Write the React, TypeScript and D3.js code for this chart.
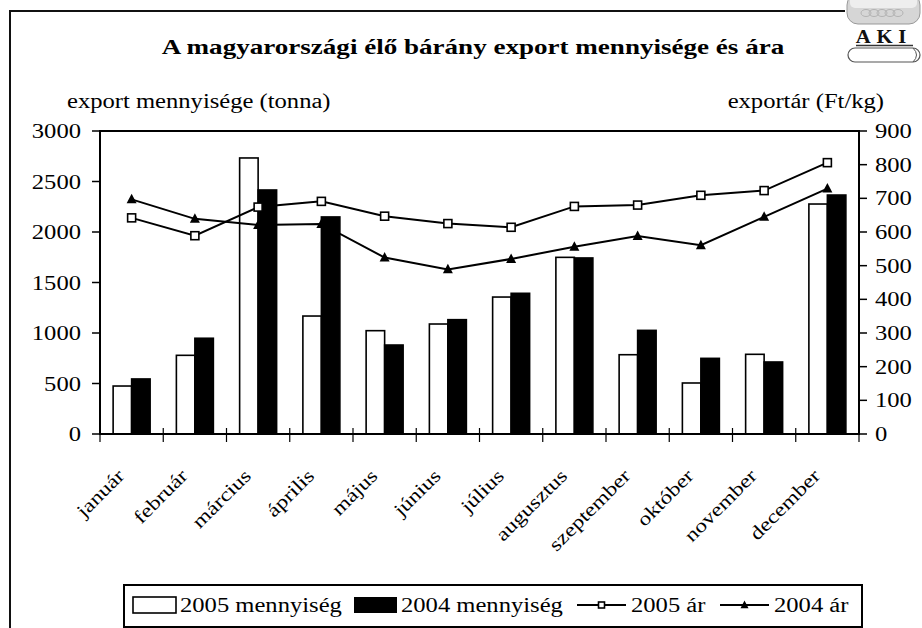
import React from 'react';
import * as d3 from 'd3';

const months = ['január', 'február', 'március', 'április', 'május', 'június', 'július', 'augusztus', 'szeptember', 'október', 'november', 'december'];
const qty2005 = [475, 779, 2733, 1168, 1023, 1089, 1356, 1749, 785, 505, 789, 2277];
const qty2004 = [545, 948, 2416, 2149, 881, 1132, 1393, 1743, 1026, 749, 713, 2366];
const price2005 = [642, 589, 674, 691, 647, 625, 614, 676, 680, 709, 723, 806];
const price2004 = [697, 639, 621, 624, 524, 489, 520, 556, 588, 561, 645, 729];
const qtyTicks = [0, 500, 1000, 1500, 2000, 2500, 3000];
const priceTicks = [0, 100, 200, 300, 400, 500, 600, 700, 800, 900];

const W = 922;
const H = 628;
const FONT = '"Liberation Serif", "Times New Roman", serif';
const SX = 1.23; // text in the original is stretched horizontally

const plot = { left: 100, right: 859, top: 131, bottom: 434 };

// stretched text helper
const T = ({ x, y, size = 20, anchor = 'start', weight = 'normal', rotate = 0, children }: any) => (
  <text
    transform={`translate(${x},${y}) rotate(${rotate}) scale(${SX},1)`}
    fontFamily={FONT}
    fontSize={size}
    fontWeight={weight}
    textAnchor={anchor}
    fill="#000"
  >
    {children}
  </text>
);

const Square = ({ x, y, s = 8 }: any) => (
  <rect x={x - s / 2} y={y - s / 2} width={s} height={s} fill="#fff" stroke="#000" strokeWidth={1.6} />
);

const Tri = ({ x, y, s = 10 }: any) => (
  <path d={`M${x},${y - s * 0.55}L${x + s / 2},${y + s * 0.4}L${x - s / 2},${y + s * 0.4}Z`} fill="#000" />
);

export default function App() {
  const x = d3.scaleBand().domain(months).range([plot.left, plot.right]);
  const xs = d3.scaleBand().domain(['2005', '2004']).range([0, x.bandwidth()]).paddingOuter(0.71);
  const yL = d3.scaleLinear().domain([0, 3000]).range([plot.bottom, plot.top]);
  const yR = d3.scaleLinear().domain([0, 900]).range([plot.bottom, plot.top]);
  const cx = (m: string) => (x(m) as number) + x.bandwidth() / 2;

  const line = d3.line<number>()
    .x((_, i) => cx(months[i]))
    .y(d => yR(d));

  const bounds = months.map(m => x(m) as number).concat([plot.right]);

  // legend layout
  const ly = 605;

  return (
    <svg width={W} height={H} style={{ position: 'absolute', left: 0, top: 0, background: '#fff' }}>
      <rect x={0} y={0} width={W} height={H} fill="#fff" />

      {/* outer chart border */}
      <path d={`M10,${H}V11H845`} fill="none" stroke="#111" strokeWidth={2} />

      {/* logo */}
      <g>
        <rect x={847} y={-6} width={73} height={30} rx={11} fill="#d6d6d6" stroke="#999" strokeWidth={1} />
        <rect x={850} y={-4} width={67} height={12} rx={5} fill="#eee" />
        <g fill="none" stroke="#aaa" strokeWidth={0.8}>
          {[0, 1, 2, 3, 4].map(i => (
            <ellipse key={i} cx={866 + i * 8} cy={13} rx={5} ry={3.5} />
          ))}
        </g>
        <text transform="translate(884,43) scale(1.15,1)" fontFamily={FONT} fontSize={18} fontWeight="bold" textAnchor="middle" letterSpacing={5} fill="#111">AKI</text>
        <line x1={856} x2={913} y1={45.5} y2={45.5} stroke="#333" strokeWidth={1.5} />
        <rect x={848} y={48} width={72} height={14} rx={7} fill="#fff" stroke="#555" strokeWidth={1.2} />
        <path d="M913,48Q920,55 913,62" fill="none" stroke="#555" strokeWidth={1} />
      </g>

      {/* title */}
      <T x={473} y={54} size={22} weight="bold" anchor="middle">A magyarországi élő bárány export mennyisége és ára</T>

      {/* axis titles */}
      <T x={67} y={108}>export mennyisége (tonna)</T>
      <T x={884} y={108} anchor="end">exportár (Ft/kg)</T>

      {/* bars */}
      {months.map((m, i) => (
        <g key={m}>
          <rect
            x={(x(m) as number) + (xs('2005') as number)}
            y={yL(qty2005[i])}
            width={xs.bandwidth()}
            height={yL(0) - yL(qty2005[i])}
            fill="#fff"
            stroke="#000"
            strokeWidth={1.6}
          />
          <rect
            x={(x(m) as number) + (xs('2004') as number)}
            y={yL(qty2004[i])}
            width={xs.bandwidth()}
            height={yL(0) - yL(qty2004[i])}
            fill="#000"
            stroke="#000"
            strokeWidth={1.6}
          />
        </g>
      ))}

      {/* plot frame */}
      <rect x={plot.left} y={plot.top} width={plot.right - plot.left} height={plot.bottom - plot.top} fill="none" stroke="#000" strokeWidth={2} />

      {/* left axis */}
      {qtyTicks.map(t => (
        <g key={'l' + t}>
          <line x1={plot.left - 8} x2={plot.left} y1={yL(t)} y2={yL(t)} stroke="#000" strokeWidth={1.5} />
          <T x={81} y={yL(t) + 7} anchor="end">{t}</T>
        </g>
      ))}

      {/* right axis */}
      {priceTicks.map(t => (
        <g key={'r' + t}>
          <line x1={plot.right} x2={plot.right + 8} y1={yR(t)} y2={yR(t)} stroke="#000" strokeWidth={1.5} />
          <T x={875} y={yR(t) + 7}>{t}</T>
        </g>
      ))}

      {/* category ticks */}
      {bounds.map((b, i) => (
        <line key={'c' + i} x1={b} x2={b} y1={plot.bottom - 6} y2={plot.bottom + 8} stroke="#000" strokeWidth={1.2} />
      ))}

      {/* category labels */}
      {months.map(m => (
        <T key={'t' + m} x={cx(m) - 6} y={477} anchor="end" rotate={-45} size={19}>{m}</T>
      ))}

      {/* price lines */}
      <path d={line(price2005) as string} fill="none" stroke="#000" strokeWidth={2} />
      <path d={line(price2004) as string} fill="none" stroke="#000" strokeWidth={2} />
      {price2005.map((v, i) => <Square key={'s' + i} x={cx(months[i])} y={yR(v)} />)}
      {price2004.map((v, i) => <Tri key={'t' + i} x={cx(months[i])} y={yR(v)} />)}

      {/* legend */}
      <rect x={124} y={585} width={738} height={42} fill="#fff" stroke="#000" strokeWidth={2} />
      <rect x={133} y={597} width={43} height={16} fill="#fff" stroke="#000" strokeWidth={1.6} />
      <T x={180} y={ly + 7}>2005 mennyiség</T>
      <rect x={354} y={597} width={43} height={16} fill="#000" />
      <T x={401} y={ly + 7}>2004 mennyiség</T>
      <line x1={577} x2={626} y1={ly} y2={ly} stroke="#000" strokeWidth={2} />
      <Square x={601.5} y={ly} s={6} />
      <T x={631} y={ly + 7}>2005 ár</T>
      <line x1={720} x2={769} y1={ly} y2={ly} stroke="#000" strokeWidth={2} />
      <Tri x={744.5} y={ly} s={8} />
      <T x={774} y={ly + 7}>2004 ár</T>
    </svg>
  );
}
